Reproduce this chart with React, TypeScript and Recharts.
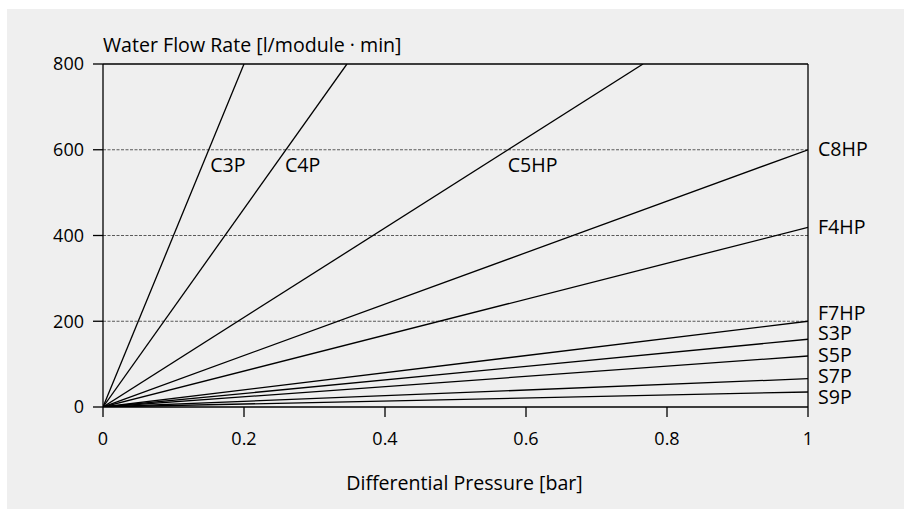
import React from 'react';
import {
  LineChart,
  Line,
  XAxis,
  YAxis,
  CartesianGrid,
  ReferenceLine,
  ReferenceDot,
} from 'recharts';

// series: straight lines from the origin to an end point
const seriesNames = ['C3P', 'C4P', 'C5HP', 'C8HP', 'F4HP', 'F7HP', 'S3P', 'S5P', 'S7P', 'S9P'];
const endPressure = [0.2, 0.346, 0.766, 1, 1, 1, 1, 1, 1, 1];
const endFlow = [800, 800, 800, 600, 419, 200, 158, 119, 66, 35];

// labels drawn inside the plot (left edge of text at x, centre at y)
const innerLabels = ['C3P', 'C4P', 'C5HP'];
const innerLabelX = [0.152, 0.258, 0.574];
const innerLabelY = [565, 565, 565];

// labels on the right side of the plot
const rightLabels = ['C8HP', 'F4HP', 'F7HP', 'S3P', 'S5P', 'S7P', 'S9P'];
const rightLabelY = [601, 419, 219, 172, 122, 73, 23];

const xTicks = [0, 0.2, 0.4, 0.6, 0.8, 1];
const yTicks = [0, 200, 400, 600, 800];

const FONT = '"Open Sans", "DejaVu Sans", sans-serif';
const INK = '#000';
const TICK_SIZE = 18;
const LABEL_SIZE = 19.6;

function fmtX(v: number) {
  return String(v);
}

export default function App() {
  const series = seriesNames.map((name, i) => ({
    name,
    data: [
      { x: 0, y: 0 },
      { x: endPressure[i], y: endFlow[i] },
    ],
  }));

  return (
    <div
      style={{
        position: 'absolute',
        left: 7,
        top: 9,
        width: 897,
        height: 500,
        background: '#efefef',
        fontFamily: FONT,
      }}
    >
      <LineChart
        width={897}
        height={500}
        margin={{ top: 55, right: 96, left: 0, bottom: 22 }}
        style={{ fontFamily: FONT }}
      >
        <CartesianGrid
          vertical={false}
          horizontalValues={[200, 400, 600]}
          stroke="#333"
          strokeWidth={0.8}
          strokeDasharray="3 1.5"
        />
        <XAxis
          type="number"
          dataKey="x"
          domain={[0, 1]}
          ticks={xTicks}
          tickFormatter={fmtX}
          allowDataOverflow
          height={80}
          tickSize={10}
          tickMargin={15}
          stroke={INK}
          strokeWidth={1.3}
          tick={{ fill: INK, fontSize: TICK_SIZE, fontFamily: FONT }}
          label={{
            value: 'Differential Pressure [bar]',
            position: 'insideBottom',
            offset: -2.5,
            dx: 9,
            fill: INK,
            fontSize: LABEL_SIZE,
            fontFamily: FONT,
          }}
        />
        <YAxis
          type="number"
          dataKey="y"
          domain={[0, 800]}
          ticks={yTicks}
          allowDataOverflow
          width={96}
          tickSize={10}
          tickMargin={9}
          stroke={INK}
          strokeWidth={1.3}
          tick={{ fill: INK, fontSize: TICK_SIZE, fontFamily: FONT }}
          label={{
            content: (props: any) => {
              const vb = props.viewBox || {};
              return (
                <text
                  x={(vb.x || 0) + (vb.width || 0)}
                  y={(vb.y || 0) - 12.5}
                  fill={INK}
                  fontSize={LABEL_SIZE}
                  fontFamily={FONT}
                  textAnchor="start"
                >
                  Water Flow Rate [l/module · min]
                </text>
              );
            },
          }}
        />
        <ReferenceLine y={800} stroke={INK} strokeWidth={1.3} />
        <ReferenceLine x={1} stroke={INK} strokeWidth={1.3} />
        {series.map((s) => (
          <Line
            key={s.name}
            data={s.data}
            dataKey="y"
            name={s.name}
            type="linear"
            stroke={INK}
            strokeWidth={1.3}
            dot={false}
            activeDot={false}
            isAnimationActive={false}
          />
        ))}
        {innerLabels.map((name, i) => (
          <ReferenceDot
            key={name}
            x={innerLabelX[i]}
            y={innerLabelY[i]}
            r={0}
            stroke="none"
            fill="none"
            ifOverflow="visible"
            label={{
              value: name,
              position: 'right',
              offset: 0,
              fill: INK,
              fontSize: LABEL_SIZE,
              fontFamily: FONT,
            }}
          />
        ))}
        {rightLabels.map((name, i) => (
          <ReferenceDot
            key={name}
            x={1}
            y={rightLabelY[i]}
            r={0}
            stroke="none"
            fill="none"
            ifOverflow="visible"
            label={{
              value: name,
              position: 'right',
              offset: 10,
              fill: INK,
              fontSize: LABEL_SIZE,
              fontFamily: FONT,
            }}
          />
        ))}
      </LineChart>
    </div>
  );
}
